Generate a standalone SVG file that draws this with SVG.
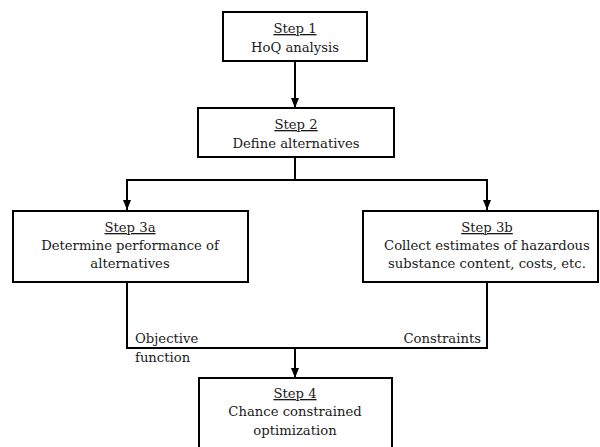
<svg xmlns="http://www.w3.org/2000/svg" width="600" height="447" viewBox="0 0 600 447">
<defs>
<style>
.box{fill:#fff;stroke:#000;stroke-width:2}
.t{font-family:"DejaVu Serif","Liberation Serif",serif;font-size:13.2px;fill:#1a1a1a;text-anchor:middle}
.u{text-decoration:underline}
.l{font-family:"DejaVu Serif","Liberation Serif",serif;font-size:13.2px;fill:#1a1a1a}
.c{fill:none;stroke:#000;stroke-width:2}
</style>
<marker id="ah" markerWidth="10" markerHeight="10" viewBox="0 0 10 10" refX="10" refY="5" orient="auto" markerUnits="userSpaceOnUse">
<path d="M0,1 L10,5 L0,9 z" fill="#000"/>
</marker>
</defs>
<rect width="600" height="447" fill="#fff"/>
<g id="connectors">
<line class="c" x1="295" y1="61" x2="295" y2="108" marker-end="url(#ah)"/>
<polyline class="c" points="295,157 295,180"/>
<line class="c" x1="126" y1="180" x2="488" y2="180"/>
<line class="c" x1="127" y1="180" x2="127" y2="210" marker-end="url(#ah)"/>
<line class="c" x1="487" y1="180" x2="487" y2="210" marker-end="url(#ah)"/>
<polyline class="c" points="127,282 127,348 487,348 487,282"/>
<line class="c" x1="295" y1="348" x2="295" y2="378" marker-end="url(#ah)"/>
<text class="l" x="135" y="343">Objective</text>
<text class="l" x="135" y="362">function</text>
<text class="l" x="481" y="343" text-anchor="end">Constraints</text>
</g>
<g id="step1">
<rect class="box" x="223" y="12" width="144" height="49"/>
<text class="t u" x="295" y="33">Step 1</text>
<text class="t" x="295" y="52">HoQ analysis</text>
</g>
<g id="step2">
<rect class="box" x="198" y="108" width="196" height="49"/>
<text class="t u" x="296" y="129">Step 2</text>
<text class="t" x="296" y="148">Define alternatives</text>
</g>
<g id="step3a">
<rect class="box" x="13" y="211" width="235" height="71"/>
<text class="t u" x="130" y="232">Step 3a</text>
<text class="t" x="130" y="250">Determine performance of</text>
<text class="t" x="130" y="268">alternatives</text>
</g>
<g id="step3b">
<rect class="box" x="363" y="211" width="235" height="71"/>
<text class="t u" x="487" y="232">Step 3b</text>
<text class="t" x="487" y="250">Collect estimates of hazardous</text>
<text class="t" x="487" y="268">substance content, costs, etc.</text>
</g>
<g id="step4">
<rect class="box" x="199" y="378" width="193" height="80"/>
<text class="t u" x="295" y="398">Step 4</text>
<text class="t" x="295" y="416">Chance constrained</text>
<text class="t" x="295" y="435">optimization</text>
</g>
</svg>
